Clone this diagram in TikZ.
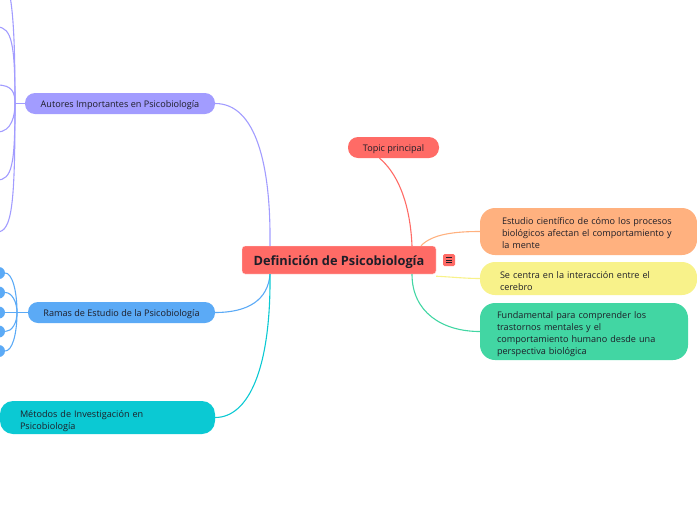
\documentclass[tikz,border=0pt]{standalone}
\usepackage{fontspec}
\setmainfont{Open Sans}
\usetikzlibrary{positioning}

\definecolor{rootred}{HTML}{FF6B66}
\definecolor{autorcol}{HTML}{A29CFF}
\definecolor{ramacol}{HTML}{5BAAF6}
\definecolor{metodocol}{HTML}{0BC9D3}
\definecolor{estudiocol}{HTML}{FFB17F}
\definecolor{centracol}{HTML}{F8F28A}
\definecolor{fundcol}{HTML}{42D6A3}
\definecolor{txtcol}{HTML}{1E1E28}

\tikzset{
  topicbox/.style={fill=#1, rounded corners=10pt, text=txtcol, inner sep=0pt,
    minimum height=21pt, text height=9pt, text depth=2pt},
  notebox/.style={fill=#1, rounded corners=15pt, text=txtcol, align=left,
    inner ysep=0pt},
  link/.style={draw=#1, line width=1.1pt},
}

\begin{document}
\begin{tikzpicture}[x=1pt, y=-1pt, every node/.style={font=\fontsize{9.1}{12}\selectfont}]
  \useasboundingbox (0,0) rectangle (697,520);
  \clip (0,0) rectangle (697,520);

  % central topic
  \node[fill=rootred, draw=white!85!rootred, rounded corners=3pt, minimum width=194pt,
    minimum height=28pt, inner sep=0pt, font=\fontsize{12.8}{14}\selectfont\bfseries,
    text=txtcol, text height=13.5pt, text depth=3pt] (def) at (339,260) {Definición de Psicobiología};
  \node[fill=rootred, rounded corners=1.5pt, minimum size=12pt, inner sep=0pt] (menu) at (449,260) {};
  \foreach \dy in {-2.5,0,2.5}
    \draw[txtcol, line width=0.8pt] ([xshift=-3pt, yshift=\dy]menu.center) -- ([xshift=3pt, yshift=\dy]menu.center);

  % main branches
  \node[topicbox=autorcol, minimum width=190pt] (aut) at (120,103.5) {Autores Importantes en Psicobiología};
  \node[topicbox=ramacol, minimum width=187pt] (ram) at (121.5,312.5) {Ramas de Estudio de la Psicobiología};
  \node[notebox=metodocol, text width=175pt, inner xsep=20pt, minimum height=33pt,
    rounded corners=13pt, text height=14pt] (met) at (107.5,417.5) {Métodos de Investigación en\\Psicobiología};
  \node[topicbox=rootred, minimum width=91pt] (top) at (393.5,147.5) {Topic principal};

  % notes on the right
  \node[notebox=estudiocol, text width=173pt, inner xsep=22pt, minimum height=47pt,
    text height=11pt] (est) at (588.5,231.5)
    {Estudio científico de cómo los procesos\\biológicos afectan el comportamiento y\\la mente};
  \node[notebox=centracol, text width=177pt, inner xsep=20pt, minimum height=33pt,
    text height=11.5pt] (cen) at (588.5,278.5)
    {Se centra en la interacción entre el\\cerebro};
  \node[notebox=fundcol, text width=174pt, inner xsep=17pt, minimum height=57pt,
    text height=12pt] (fun) at (584,331.5)
    {Fundamental para comprender los\\trastornos mentales y el\\comportamiento humano desde una\\perspectiva biológica};

  % connectors from the root
  \path[link=autorcol] ([xshift=-69pt]def.north) .. controls (271,165) and (256,103.5) .. (aut.east);
  \path[link=ramacol] ([xshift=-69pt]def.south) .. controls (268,300) and (248,312.5) .. (ram.east);
  \path[link=metodocol] ([xshift=-69pt]def.south) .. controls (271,370) and (248,417.5) .. (met.east);
  \path[link=rootred] ([xshift=73pt]def.north) .. controls (410,200) and (396,172) .. ([xshift=-14pt]top.south);
  \path[link=estudiocol] ([xshift=82pt]def.north) .. controls (432,234) and (455,231.5) .. (est.west);
  \path[link=centracol] ([yshift=-2pt]def.south east) .. controls (452,277) and (466,278.5) .. (cen.west);
  \path[link=fundcol] ([xshift=73pt]def.south) .. controls (412,312) and (442,331.5) .. (fun.west);

  % children of Autores (off the page)
  \coordinate (autj) at (15,103.5);
  \path[link=autorcol] (aut.west) -- (autj);
  \foreach \cy/\ca/\cb in {-30/20/-25, 27/45/27, 85/92/85, 132/115/132, 180/165/180, 232/205/232}
    \path[link=autorcol] (autj) .. controls (15,\ca) and (12,\cb) .. (-3,\cy);

  % children of Ramas (off the page)
  \coordinate (ramj) at (17,312.5);
  \foreach \cy [count=\i] in {273,292.5,312.5,331.5,351}
    \node[fill=ramacol, rounded corners=6pt, minimum width=50pt, minimum height=12pt,
      inner sep=0pt] (r\i) at (-20,\cy) {};
  \path[link=ramacol] (ram.west) -- (r3.east);
  \foreach \i/\ca/\cb in {1/290/273, 2/302/292.5, 4/323/331.5, 5/335/351}
    \path[link=ramacol] (ramj) .. controls (17,\ca) and (12,\cb) .. (r\i.east);
\end{tikzpicture}
\end{document}
